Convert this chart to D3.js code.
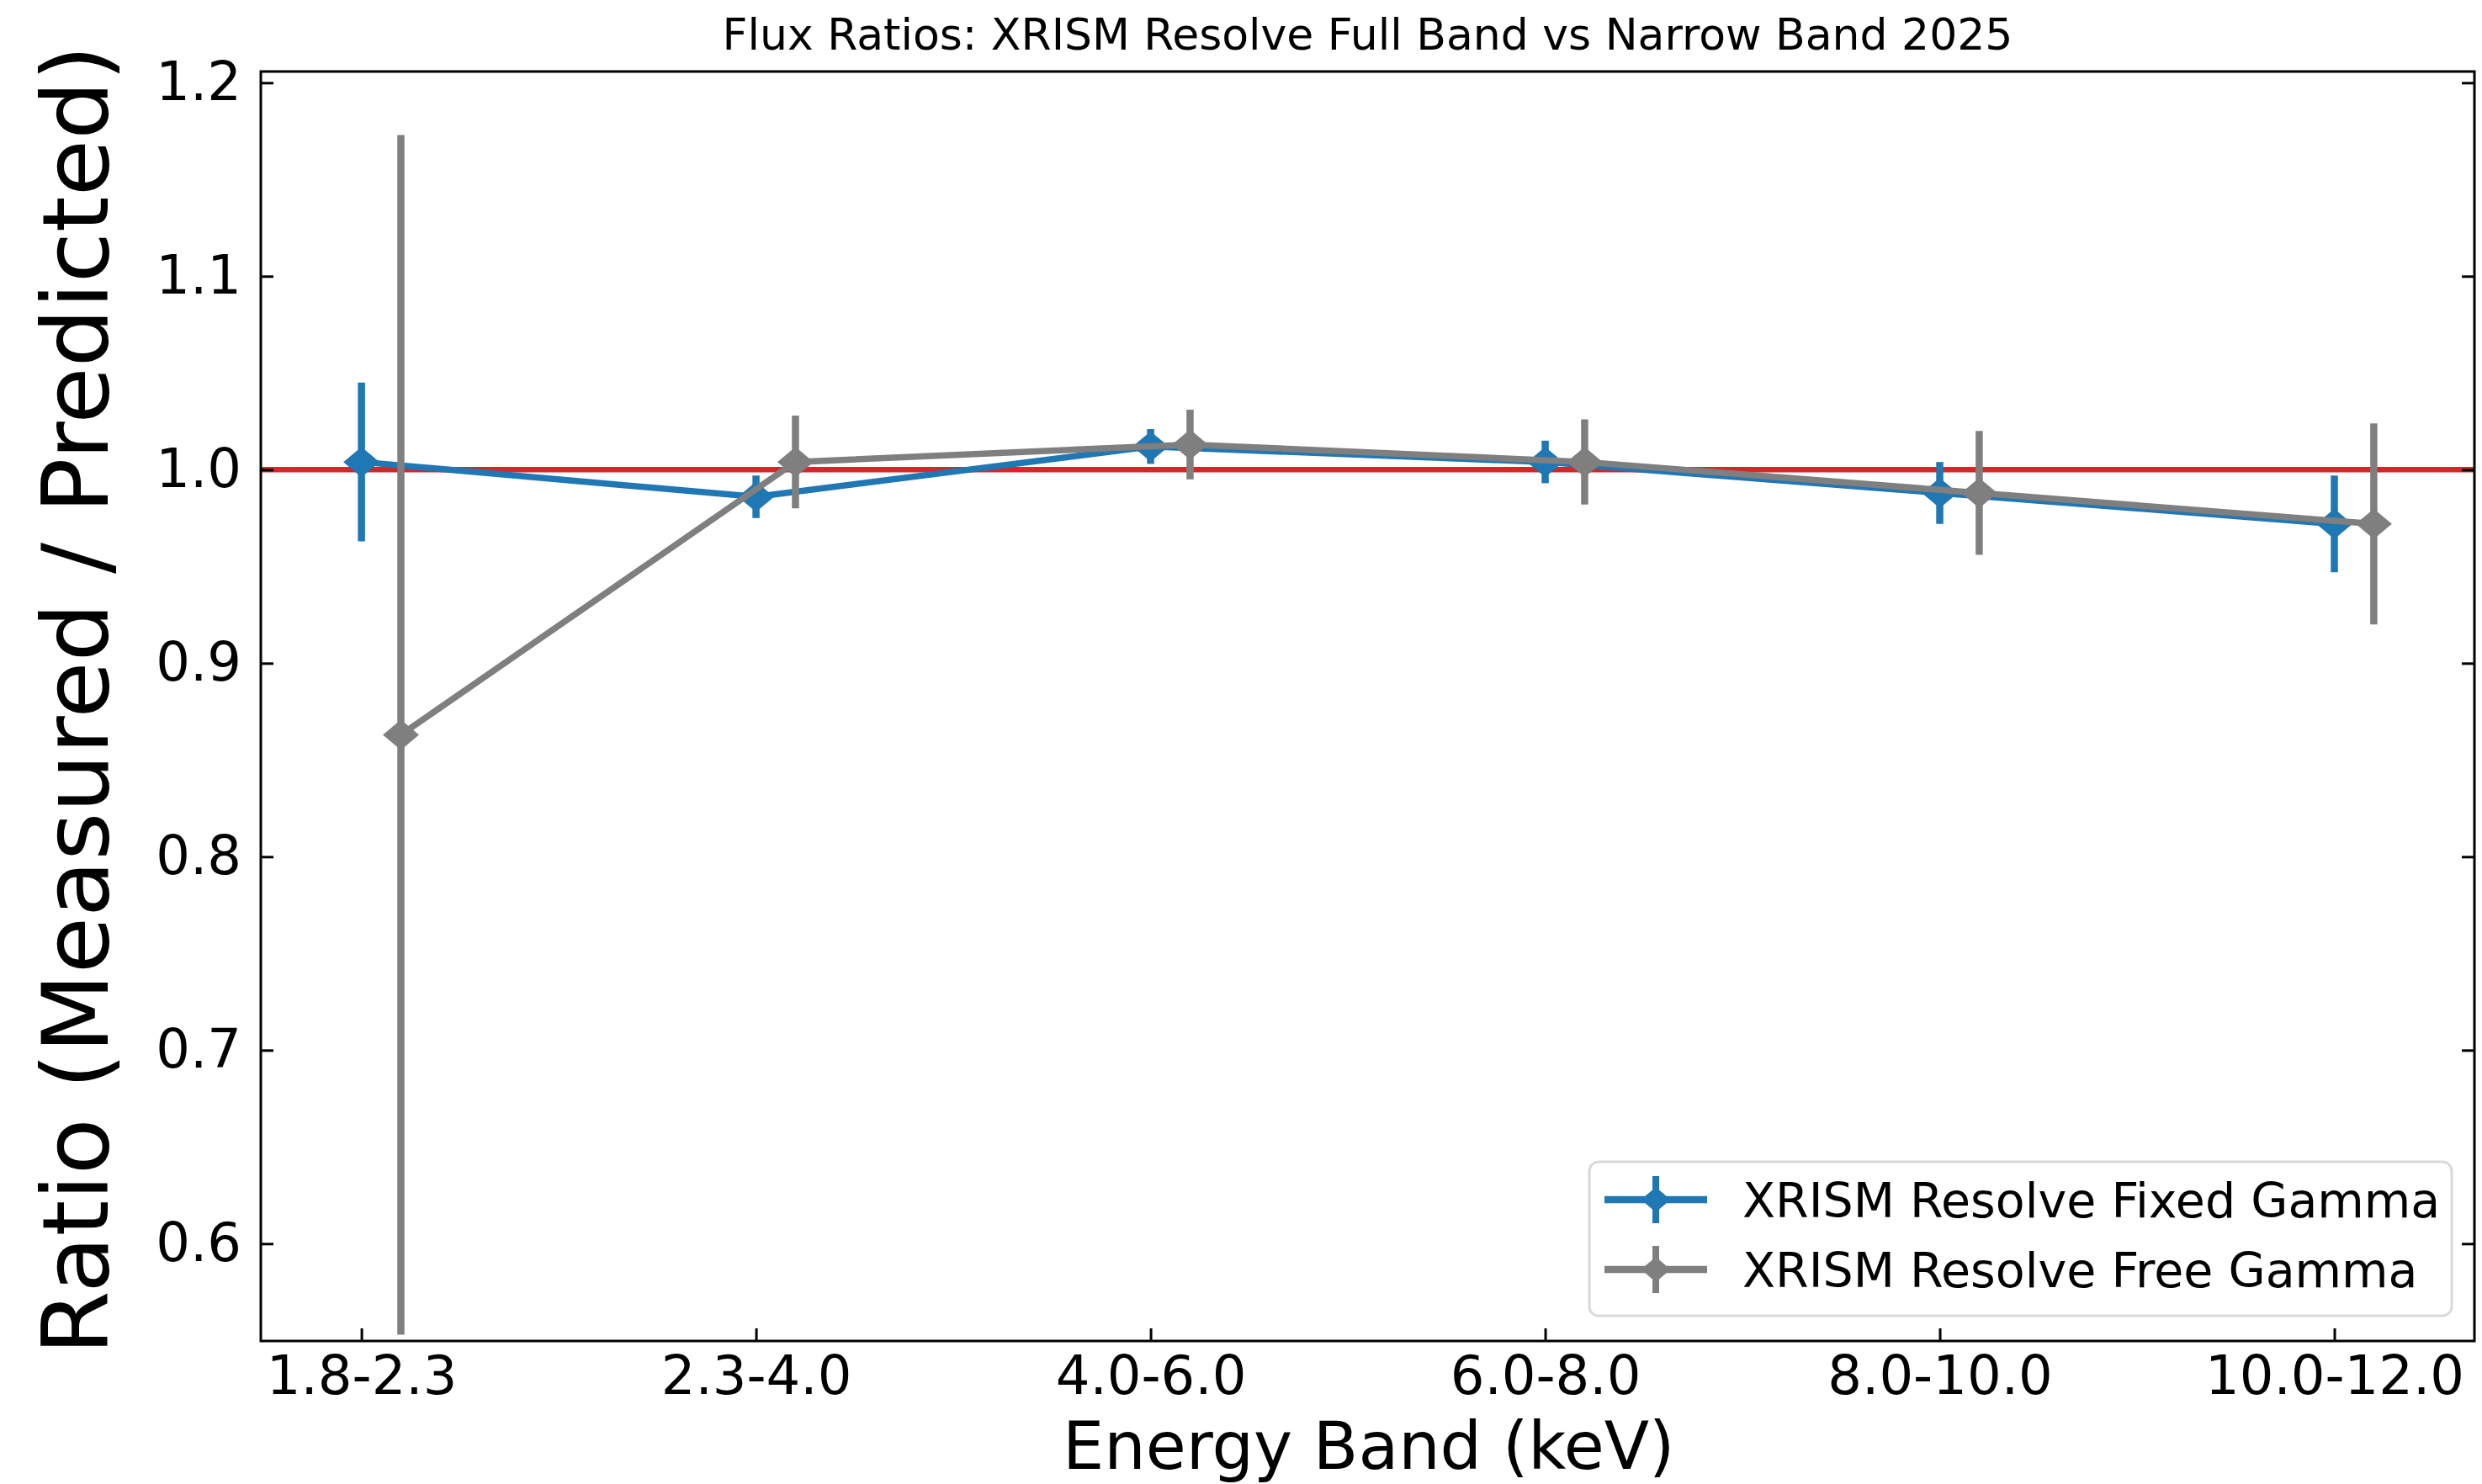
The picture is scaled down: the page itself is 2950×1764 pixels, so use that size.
<!DOCTYPE html>
<html>
<head>
<meta charset="utf-8">
<script src="https://cdn.jsdelivr.net/npm/d3@7"></script>
<style>
  html, body { margin: 0; padding: 0; background: #ffffff; }
  svg { display: block; font-family: "DejaVu Sans", sans-serif; }
</style>
</head>
<body>
<svg id="chart" width="2950" height="1764"></svg>
<script>
// ---- data ----
const categories = ["1.8-2.3", "2.3-4.0", "4.0-6.0", "6.0-8.0", "8.0-10.0", "10.0-12.0"];
const fixedRatio = [1.004, 0.986, 1.012, 1.004, 0.988, 0.972];
const fixedErr   = [0.041, 0.011, 0.009, 0.011, 0.016, 0.025];
const freeRatio  = [0.863, 1.004, 1.013, 1.004, 0.988, 0.972];
const freeErr    = [0.310, 0.024, 0.018, 0.022, 0.032, 0.052];
const yTicks = [0.6, 0.7, 0.8, 0.9, 1.0, 1.1, 1.2];
const seriesNames = ["XRISM Resolve Fixed Gamma", "XRISM Resolve Free Gamma"];
const freeOffset = 0.1;
const referenceRatio = 1.0;

const titleText = "Flux Ratios: XRISM Resolve Full Band vs Narrow Band 2025";
const xLabel = "Energy Band (keV)";
const yLabel = "Ratio (Measured / Predicted)";

// ---- layout ----
const L = 310, R = 2941, T = 85, B = 1594;
const BLUE = "#1f77b4", GRAY = "#7f7f7f", RED = "#d62728";

const svg = d3.select("#chart");
const x = d3.scaleLinear().domain([-0.255, 5.355]).range([L, R]);
const y = d3.scaleLinear().domain([0.5497, 1.2058]).range([B, T]);

const series = [
  { name: seriesNames[0], color: BLUE, off: 0,
    pts: categories.map((c, i) => ({ i, v: fixedRatio[i], e: fixedErr[i] })) },
  { name: seriesNames[1], color: GRAY, off: freeOffset,
    pts: categories.map((c, i) => ({ i, v: freeRatio[i], e: freeErr[i] })) }
];

svg.append("defs").append("clipPath").attr("id", "plotclip")
  .append("rect").attr("x", L).attr("y", T).attr("width", R - L).attr("height", B - T);

const plot = svg.append("g").attr("clip-path", "url(#plotclip)");

// reference line
plot.append("line")
  .attr("x1", L).attr("x2", R)
  .attr("y1", y(referenceRatio)).attr("y2", y(referenceRatio))
  .attr("stroke", RED).attr("stroke-width", 6.5);

const diamond = (w, h) => `M${-w/2},0L0,${-h/2}L${w/2},0L0,${h/2}Z`;

series.forEach(s => {
  const g = plot.append("g");
  g.append("path")
    .datum(s.pts)
    .attr("fill", "none")
    .attr("stroke", s.color)
    .attr("stroke-width", 7.5)
    .attr("stroke-linejoin", "round")
    .attr("d", d3.line().x(d => x(d.i + s.off)).y(d => y(d.v)));
  g.selectAll("line.err").data(s.pts).join("line")
    .attr("class", "err")
    .attr("x1", d => x(d.i + s.off)).attr("x2", d => x(d.i + s.off))
    .attr("y1", d => y(d.v - d.e)).attr("y2", d => y(d.v + d.e))
    .attr("stroke", s.color).attr("stroke-width", 8.5);
  g.selectAll("path.mk").data(s.pts).join("path")
    .attr("class", "mk")
    .attr("d", diamond(43, 36))
    .attr("transform", d => `translate(${x(d.i + s.off)},${y(d.v)})`)
    .attr("fill", s.color);
});

// ---- axes ----
const fs = 64;
const yAxis = d3.axisLeft(y).tickValues(yTicks).tickFormat(d3.format(".1f"))
  .tickSizeInner(-15).tickSizeOuter(0).tickPadding(23);
const gy = svg.append("g").attr("transform", `translate(${L},0)`).call(yAxis);
gy.select(".domain").remove();
gy.selectAll(".tick line").attr("stroke", "#000").attr("stroke-width", 3);
gy.selectAll(".tick text").attr("font-size", fs).attr("fill", "#000")
  .attr("font-family", "DejaVu Sans");

const yAxisR = d3.axisRight(y).tickValues(yTicks).tickFormat("")
  .tickSizeInner(-15).tickSizeOuter(0);
const gyr = svg.append("g").attr("transform", `translate(${R},0)`).call(yAxisR);
gyr.select(".domain").remove();
gyr.selectAll(".tick line").attr("stroke", "#000").attr("stroke-width", 3);

const xAxis = d3.axisBottom(x).tickValues(d3.range(categories.length))
  .tickFormat(i => categories[i]).tickSizeInner(-15).tickSizeOuter(0).tickPadding(18);
const gx = svg.append("g").attr("transform", `translate(0,${B})`).call(xAxis);
gx.select(".domain").remove();
gx.selectAll(".tick line").attr("stroke", "#000").attr("stroke-width", 3);
gx.selectAll(".tick text").attr("font-size", fs).attr("fill", "#000")
  .attr("font-family", "DejaVu Sans");

// frame
svg.append("rect").attr("x", L).attr("y", T).attr("width", R - L).attr("height", B - T)
  .attr("fill", "none").attr("stroke", "#000").attr("stroke-width", 3);

// ---- titles ----
svg.append("text").attr("x", (L + R) / 2).attr("y", 59)
  .attr("text-anchor", "middle").attr("font-size", 52).attr("fill", "#000")
  .text(titleText);

svg.append("text").attr("x", 1263).attr("y", 1746)
  .attr("text-anchor", "start").attr("font-size", 78).attr("fill", "#000")
  .text(xLabel);

svg.append("text")
  .attr("transform", `translate(128,832) rotate(-90)`)
  .attr("text-anchor", "middle").attr("font-size", 109.5).attr("fill", "#000")
  .text(yLabel);

// ---- legend ----
const leg = svg.append("g");
leg.append("rect").attr("x", 1889).attr("y", 1381).attr("width", 1025).attr("height", 183)
  .attr("rx", 11).attr("ry", 11)
  .attr("fill", "#ffffff").attr("fill-opacity", 0.8)
  .attr("stroke", "#d9d9d9").attr("stroke-width", 3);
const rowY = [1426, 1509];
series.forEach((s, k) => {
  const cy = rowY[k];
  const g = leg.append("g");
  g.append("line").attr("x1", 1907).attr("x2", 2029).attr("y1", cy).attr("y2", cy)
    .attr("stroke", s.color).attr("stroke-width", 8.5);
  g.append("line").attr("x1", 1968).attr("x2", 1968).attr("y1", cy - 28).attr("y2", cy + 28)
    .attr("stroke", s.color).attr("stroke-width", 8);
  g.append("path").attr("d", diamond(35, 30)).attr("transform", `translate(1968,${cy})`)
    .attr("fill", s.color);
  g.append("text").attr("x", 2071).attr("y", cy).attr("dy", "0.36em")
    .attr("font-size", 57).attr("fill", "#000").text(s.name);
});
</script>
</body>
</html>
